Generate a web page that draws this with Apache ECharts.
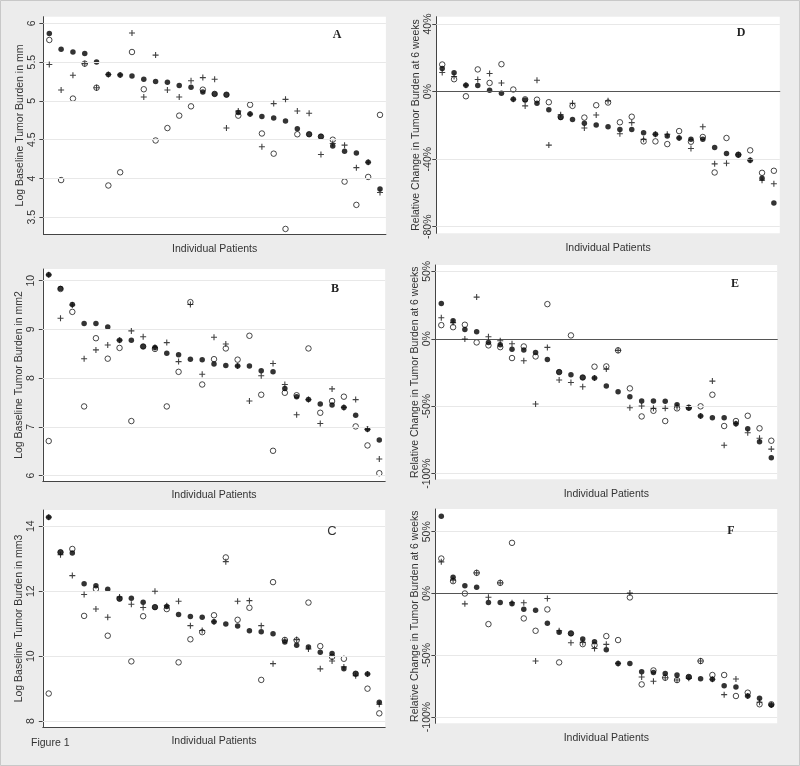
<!DOCTYPE html>
<html><head><meta charset="utf-8">
<script src="https://cdn.jsdelivr.net/npm/echarts@6/dist/echarts.min.js"></script>
<style>html,body{margin:0;padding:0;background:#fff}#c{width:800px;height:766px}</style>
</head><body><div id="c"></div><script>
// ---- categories ----
const patients = ['1','2','3','4','5','6','7','8','9','10','11','12','13','14','15','16','17','18','19','20','21','22','23','24','25','26','27','28','29'];

// ---- tick labels ----
const ticksA = [3.5, 4, 4.5, 5, 5.5, 6];
const ticksB = [6, 7, 8, 9, 10];
const ticksC = [8, 10, 12, 14];
const ticksD = [-80, -40, 0, 40];
const ticksE = [-100, -50, 0, 50];
const ticksF = [-100, -50, 0, 50];

// ---- Panel A: Log baseline tumor burden in mm ----
const aFilled = [5.87,5.665,5.63,5.61,5.50,5.34,5.335,5.32,5.28,5.25,5.24,5.20,5.175,5.115,5.09,5.08,4.85,4.83,4.80,4.78,4.74,4.64,4.57,4.54,4.42,4.35,4.33,4.21,3.865];
const aOpen   = [5.785,3.98,5.03,5.48,5.17,3.91,4.08,5.63,5.15,4.49,4.65,4.81,4.93,5.145,5.09,5.08,4.81,4.95,4.58,4.32,3.35,4.57,4.57,4.54,4.50,3.96,3.66,4.02,4.82];
const aPlus   = [5.47,5.14,5.33,5.48,5.17,5.34,5.335,5.875,5.05,5.59,5.14,5.05,5.26,5.30,5.28,4.65,4.87,4.83,4.41,4.965,5.02,4.87,4.84,4.31,4.45,4.43,4.14,4.21,3.82];

// ---- Panel B: Log baseline tumor burden in mm2 ----
const bFilled = [10.12,9.84,9.51,9.12,9.12,9.05,8.78,8.78,8.65,8.63,8.51,8.48,8.39,8.38,8.29,8.26,8.25,8.25,8.15,8.13,7.79,7.62,7.56,7.47,7.45,7.40,7.24,6.95,6.73];
const bOpen   = [6.71,9.83,9.36,7.42,8.82,8.40,8.62,7.12,8.65,8.60,7.42,8.13,9.56,7.87,8.39,8.61,8.38,8.87,7.66,6.51,7.70,7.65,8.61,7.29,7.53,7.62,7.01,6.62,6.05];
const bPlus   = [10.12,9.23,9.50,8.40,8.58,8.68,8.78,8.97,8.85,8.63,8.73,8.34,9.51,8.08,8.84,8.70,8.25,7.53,8.05,8.30,7.87,7.25,7.56,7.07,7.78,7.40,7.56,6.95,6.34];

// ---- Panel C: Log baseline tumor burden in mm3 ----
const cFilled = [14.28,13.20,13.18,12.23,12.17,12.06,11.77,11.78,11.66,11.51,11.53,11.28,11.22,11.20,11.06,10.99,10.93,10.78,10.75,10.69,10.44,10.34,10.28,10.12,10.08,9.61,9.46,9.45,8.58];
const cOpen   = [8.85,13.20,13.30,11.24,12.07,10.63,11.77,9.84,11.23,11.51,11.45,9.81,10.52,10.74,11.26,13.04,11.12,11.49,9.27,12.28,10.50,10.49,11.65,10.31,9.98,9.92,9.46,9.00,8.24];
const cPlus   = [14.28,13.12,12.48,11.90,11.45,11.20,11.82,11.60,11.50,12.00,11.55,11.69,10.94,10.79,11.06,12.91,11.69,11.71,10.94,9.77,10.50,10.51,10.22,9.61,9.85,9.67,9.40,9.45,8.52];

// ---- Panel D: relative change (%) ----
const dFilled = [13.7,11.1,3.8,3.6,0.8,-1.0,-4.6,-5.0,-6.9,-10.7,-15.4,-16.6,-18.8,-19.8,-20.8,-22.4,-22.4,-24.4,-25.3,-26.3,-27.5,-28.3,-28.3,-33.1,-36.6,-37.4,-40.6,-51.3,-65.9];
const dOpen   = [16.0,7.3,-2.8,13.1,5.1,16.2,1.2,-4.6,-4.8,-6.3,-15.0,-8.5,-15.4,-8.1,-6.5,-18.2,-14.9,-29.5,-29.5,-31.1,-23.4,-29.7,-26.9,-47.9,-27.5,-37.4,-34.8,-48.1,-46.9];
const dPlus   = [11.3,8.9,3.8,7.1,10.7,5.1,-4.6,-8.5,6.7,-31.7,-13.7,-6.9,-21.6,-13.9,-5.5,-25.0,-18.4,-28.3,-25.3,-25.3,-27.5,-33.7,-20.8,-42.8,-42.4,-37.4,-40.6,-52.5,-54.6];

// ---- Panel E: relative change (%) ----
const eFilled = [26.2,13.3,6.9,5.2,-2.7,-4.4,-7.7,-8.4,-10.1,-15.3,-24.7,-26.7,-28.7,-29.1,-35.1,-39.3,-43.0,-46.2,-46.2,-46.4,-48.9,-51.1,-57.3,-58.5,-58.5,-63.0,-66.7,-76.3,-88.2];
const eOpen   = [10.1,8.6,10.4,-2.7,-4.9,-6.2,-14.3,-5.7,-13.1,25.7,-24.7,2.5,-28.7,-20.7,-20.5,-8.6,-36.8,-57.6,-53.4,-61.0,-51.6,-51.1,-50.1,-41.5,-64.7,-61.0,-57.1,-66.4,-75.6];
const ePlus   = [15.6,12.0,-0.2,30.9,1.5,-1.5,-3.7,-16.3,-48.4,-6.4,-30.6,-32.4,-35.6,-29.1,-22.5,-8.6,-51.1,-49.9,-51.6,-51.6,-50.4,-51.1,-57.3,-31.4,-79.0,-63.0,-69.7,-73.8,-81.8];

// ---- Panel F: relative change (%) ----
const fFilled = [62.5,13.2,6.2,5.1,-7.3,-7.3,-8.4,-12.7,-13.5,-24.0,-31.3,-32.3,-36.9,-39.1,-45.5,-56.6,-56.6,-63.3,-63.9,-64.7,-66.0,-67.6,-69.0,-69.5,-74.7,-75.7,-83.0,-84.9,-90.3];
const fOpen   = [28.3,10.0,0.0,16.7,-24.8,8.6,41.0,-20.2,-30.2,-12.9,-55.8,-32.3,-41.0,-41.8,-34.5,-37.7,-3.2,-73.6,-62.3,-68.2,-70.1,-67.6,-54.7,-66.0,-66.0,-83.0,-80.3,-89.7,-89.7];
const fPlus   = [25.6,10.8,-8.4,16.7,-3.0,8.6,-7.5,-7.5,-54.7,-4.0,-30.2,-39.9,-39.6,-44.5,-41.2,-56.6,0.3,-67.6,-71.1,-68.2,-70.1,-68.7,-54.7,-69.5,-81.9,-69.3,-83.0,-88.1,-90.3];

const xName = 'Individual Patients';
const FONT = 'Liberation Sans';
const TXT = '#333';
const AX = '#444';
const PLUS = 'path://M-0.18,-1H0.18V-0.18H1V0.18H0.18V1H-0.18V0.18H-1V-0.18H-0.18Z';

const pct = v => v + '%';
const num = v => String(v);

const panels = [
  {rect:{left:43.4, top:16.7, width:342.5, height:217.6}, min:3.281, max:6.085, ticks:ticksA, fmt:num, f:aFilled, o:aOpen, p:aPlus, name:'Log Baseline Tumor Burden in mm', zero:false, side:'L'},
  {rect:{left:42.8, top:269, width:342.4, height:212}, min:5.89, max:10.24, ticks:ticksB, fmt:num, f:bFilled, o:bOpen, p:bPlus, name:'Log Baseline Tumor Burden in mm2', zero:false, side:'L'},
  {rect:{left:42.8, top:510, width:342.4, height:217}, min:7.82, max:14.5, ticks:ticksC, fmt:num, f:cFilled, o:cOpen, p:cPlus, name:'Log Baseline Tumor Burden in mm3', zero:false, side:'L'},
  {rect:{left:436.3, top:16.7, width:343.5, height:216.6}, min:-83.9, max:44.3, ticks:ticksD, fmt:pct, f:dFilled, o:dOpen, p:dPlus, name:'Relative Change in Tumor Burden at 6 weeks', zero:true, side:'R'},
  {rect:{left:435.4, top:265, width:341.8, height:214.3}, min:-104.2, max:54.7, ticks:ticksE, fmt:pct, f:eFilled, o:eOpen, p:ePlus, name:'Relative Change in Tumor Burden at 6 weeks', zero:true, side:'R'},
  {rect:{left:435.4, top:509, width:341.8, height:214.3}, min:-105.1, max:68.4, ticks:ticksF, fmt:pct, f:fFilled, o:fOpen, p:fPlus, name:'Relative Change in Tumor Burden at 6 weeks', zero:true, side:'R'}
];

const grid = [], xAxis = [], yAxis = [], series = [];
panels.forEach((pn, i) => {
  grid.push(Object.assign({show:true, backgroundColor:'#ffffff', borderWidth:0}, pn.rect));
  xAxis.push({
    type:'category', gridIndex:i, data:patients, boundaryGap:true,
    axisLine:{show:true, lineStyle:{color:AX, width:1}},
    axisTick:{show:false}, axisLabel:{show:false}, splitLine:{show:false},
    name:xName, nameLocation:'middle', nameGap:9,
    nameTextStyle:{fontFamily:FONT, fontSize:10.5, color:TXT}
  });
  yAxis.push({
    type:'value', gridIndex:i, min:pn.min, max:pn.max,
    axisLine:{show:true, onZero:false, lineStyle:{color:AX, width:1}},
    axisTick:{show:true, length:4, customValues:pn.ticks, lineStyle:{color:AX}},
    axisLabel:{show:true, customValues:pn.ticks, rotate:90, margin:pn.side==='L'?6:3,
      formatter:pn.fmt, fontFamily:FONT, fontSize:10.5, color:TXT},
    splitLine:{show:false},
    name:pn.name, nameLocation:'middle', nameGap:pn.side==='L'?13:9,
    nameTextStyle:{fontFamily:FONT, fontSize:10.5, color:TXT}
  });
  // reference / grid lines
  series.push({
    type:'line', xAxisIndex:i, yAxisIndex:i, data:[], z:1, silent:true,
    markLine:{silent:true, symbol:['none','none'], label:{show:false}, animation:false,
      data: pn.ticks.map(v => ({yAxis:v, lineStyle:{type:'solid', width:1,
        color:(pn.zero && v===0) ? '#555555' : '#e8e8e8'}}))}
  });
  series.push({
    type:'scatter', xAxisIndex:i, yAxisIndex:i, data:pn.o, z:3,
    symbol:'circle', symbolSize:5.5,
    itemStyle:{color:'rgba(0,0,0,0)', borderColor:'#1a1a1a', borderWidth:1}
  });
  series.push({
    type:'scatter', xAxisIndex:i, yAxisIndex:i, data:pn.f, z:4,
    symbol:'circle', symbolSize:5.5, itemStyle:{color:'#000000'}
  });
  series.push({
    type:'scatter', xAxisIndex:i, yAxisIndex:i, data:pn.p, z:5,
    symbol:PLUS, symbolSize:6, itemStyle:{color:'#111111'}
  });
});

const letterStyle = (t, x, y, fam) => ({type:'text', x:x, y:y, z:10,
  style:{text:t, font:'bold 12px "' + fam + '"', fill:'#222', textAlign:'center', textVerticalAlign:'middle'}});

const option = {
  animation:false,
  backgroundColor:'#ececec',
  grid, xAxis, yAxis, series,
  graphic:[
    {type:'rect', z:-1, silent:true, shape:{x:0.5, y:0.5, width:799, height:765},
      style:{fill:'none', stroke:'#c8c8c8', lineWidth:1}},
    letterStyle('A', 337, 35, 'Liberation Serif'),
    letterStyle('B', 335, 289, 'Liberation Serif'),
    {type:'text', x:332, y:531, z:10, style:{text:'C', font:'13px "Liberation Sans"', fill:'#333', textAlign:'center', textVerticalAlign:'middle'}},
    letterStyle('D', 741, 33, 'Liberation Serif'),
    letterStyle('E', 735, 284, 'Liberation Serif'),
    letterStyle('F', 731, 531, 'Liberation Serif'),
    {type:'text', x:31, y:743, z:10, style:{text:'Figure 1', font:'10.5px "Liberation Sans"', fill:TXT, textAlign:'left', textVerticalAlign:'middle'}}
  ]
};

const chart = echarts.init(document.getElementById('c'), null, {renderer:'canvas'});
chart.setOption(option);
</script></body></html>
